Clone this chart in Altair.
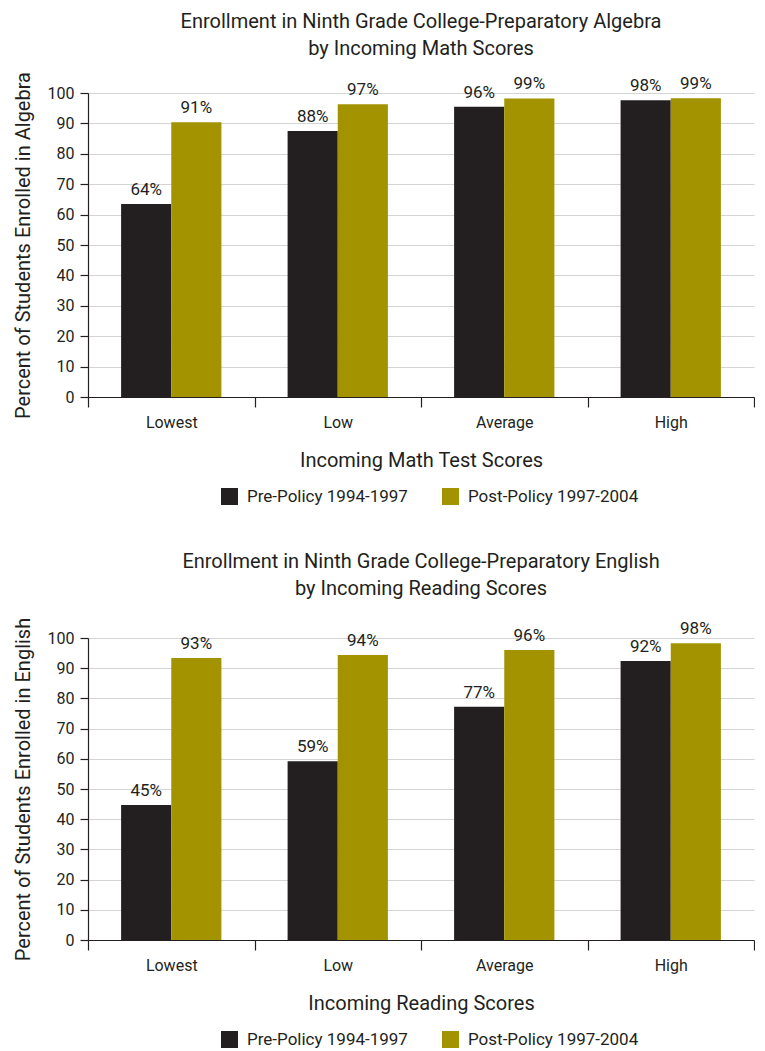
import altair as alt
import pandas as pd

categories = ["Lowest", "Low", "Average", "High"]
series = ["Pre-Policy 1994-1997", "Post-Policy 1997-2004"]

math_pre = [63.5, 87.5, 95.5, 97.6]
math_post = [90.4, 96.3, 98.2, 98.3]
math_pre_labels = ["64%", "88%", "96%", "98%"]
math_post_labels = ["91%", "97%", "99%", "99%"]

read_pre = [44.7, 59.2, 77.2, 92.4]
read_post = [93.4, 94.4, 96.0, 98.3]
read_pre_labels = ["45%", "59%", "77%", "92%"]
read_post_labels = ["93%", "94%", "96%", "98%"]

y_ticks = [0, 10, 20, 30, 40, 50, 60, 70, 80, 90, 100]
colors = ["#231f20", "#a39300"]

FONT = "Roboto"
INK = "#231f20"
W = 666


def make_df(pre, post, pre_lab, post_lab):
    rows = []
    for c, v, l in zip(categories, pre, pre_lab):
        rows.append({"cat": c, "series": series[0], "value": v, "label": l})
    for c, v, l in zip(categories, post, post_lab):
        rows.append({"cat": c, "series": series[1], "value": v, "label": l})
    return pd.DataFrame(rows)


def panel(df, title_lines, ytitle, xtitle, title_offset, h):
    x = alt.X("cat:N", sort=categories, title=xtitle,
              scale=alt.Scale(paddingInner=0, paddingOuter=0),
              axis=alt.Axis(labelAngle=0, tickBand="extent", tickSize=10,
                            labelPadding=7, titlePadding=20, grid=False))
    xo = alt.XOffset("series:N", sort=series,
                     scale=alt.Scale(paddingInner=0, paddingOuter=0.66))
    y = alt.Y("value:Q", title=ytitle,
              scale=alt.Scale(domain=[0, 100], nice=False, zero=True),
              axis=alt.Axis(values=y_ticks, labelOverlap=False,
                            tickSize=8, labelPadding=6, titlePadding=14, grid=True))
    color = alt.Color("series:N", sort=series,
                      scale=alt.Scale(domain=series, range=colors),
                      legend=alt.Legend(orient="none", legendX=133, legendY=h + 91,
                                        direction="horizontal", title=None,
                                        symbolType="square", symbolSize=289,
                                        symbolStrokeWidth=0, labelFontSize=17,
                                        labelFont=FONT, labelColor=INK, labelLimit=400,
                                        labelOffset=9, columnPadding=34))
    base = alt.Chart(df).encode(x=x, xOffset=xo, y=y)
    bars = base.mark_bar().encode(color=color)
    text = base.mark_text(baseline="alphabetic", dy=-9, fontSize=17,
                          font=FONT, color=INK).encode(text="label:N")
    return alt.layer(bars, text).properties(
        width=W, height=h,
        title=alt.TitleParams(text=title_lines, fontSize=20, font=FONT,
                              fontWeight="normal", color=INK, lineHeight=27,
                              anchor="middle", offset=title_offset))


df_math = make_df(math_pre, math_post, math_pre_labels, math_post_labels)
df_read = make_df(read_pre, read_post, read_pre_labels, read_post_labels)

top = panel(df_math,
            ["Enrollment in Ninth Grade College-Preparatory Algebra", "by Incoming Math Scores"],
            "Percent of Students Enrolled in Algebra", "Incoming Math Test Scores", 13, 304)
bottom = panel(df_read,
               ["Enrollment in Ninth Grade College-Preparatory English", "by Incoming Reading Scores"],
               "Percent of Students Enrolled in English", "Incoming Reading Scores", 18, 302)

chart = alt.vconcat(top, bottom, spacing=47).resolve_scale(color="independent").properties(
    padding={"left": 5, "top": 3, "right": 0, "bottom": 0}
).configure_view(stroke=None).configure_axis(
    labelFont=FONT, titleFont=FONT, labelFontSize=16, titleFontSize=20,
    labelColor=INK, titleColor=INK, titleFontWeight="normal",
    domainColor=INK, tickColor=INK, gridColor="#d4d4d4", domainWidth=1.2,
    tickWidth=1.2
).configure_axisY(values=y_ticks)

chart.save("out.html", embed_options={"renderer": "svg", "actions": False})
